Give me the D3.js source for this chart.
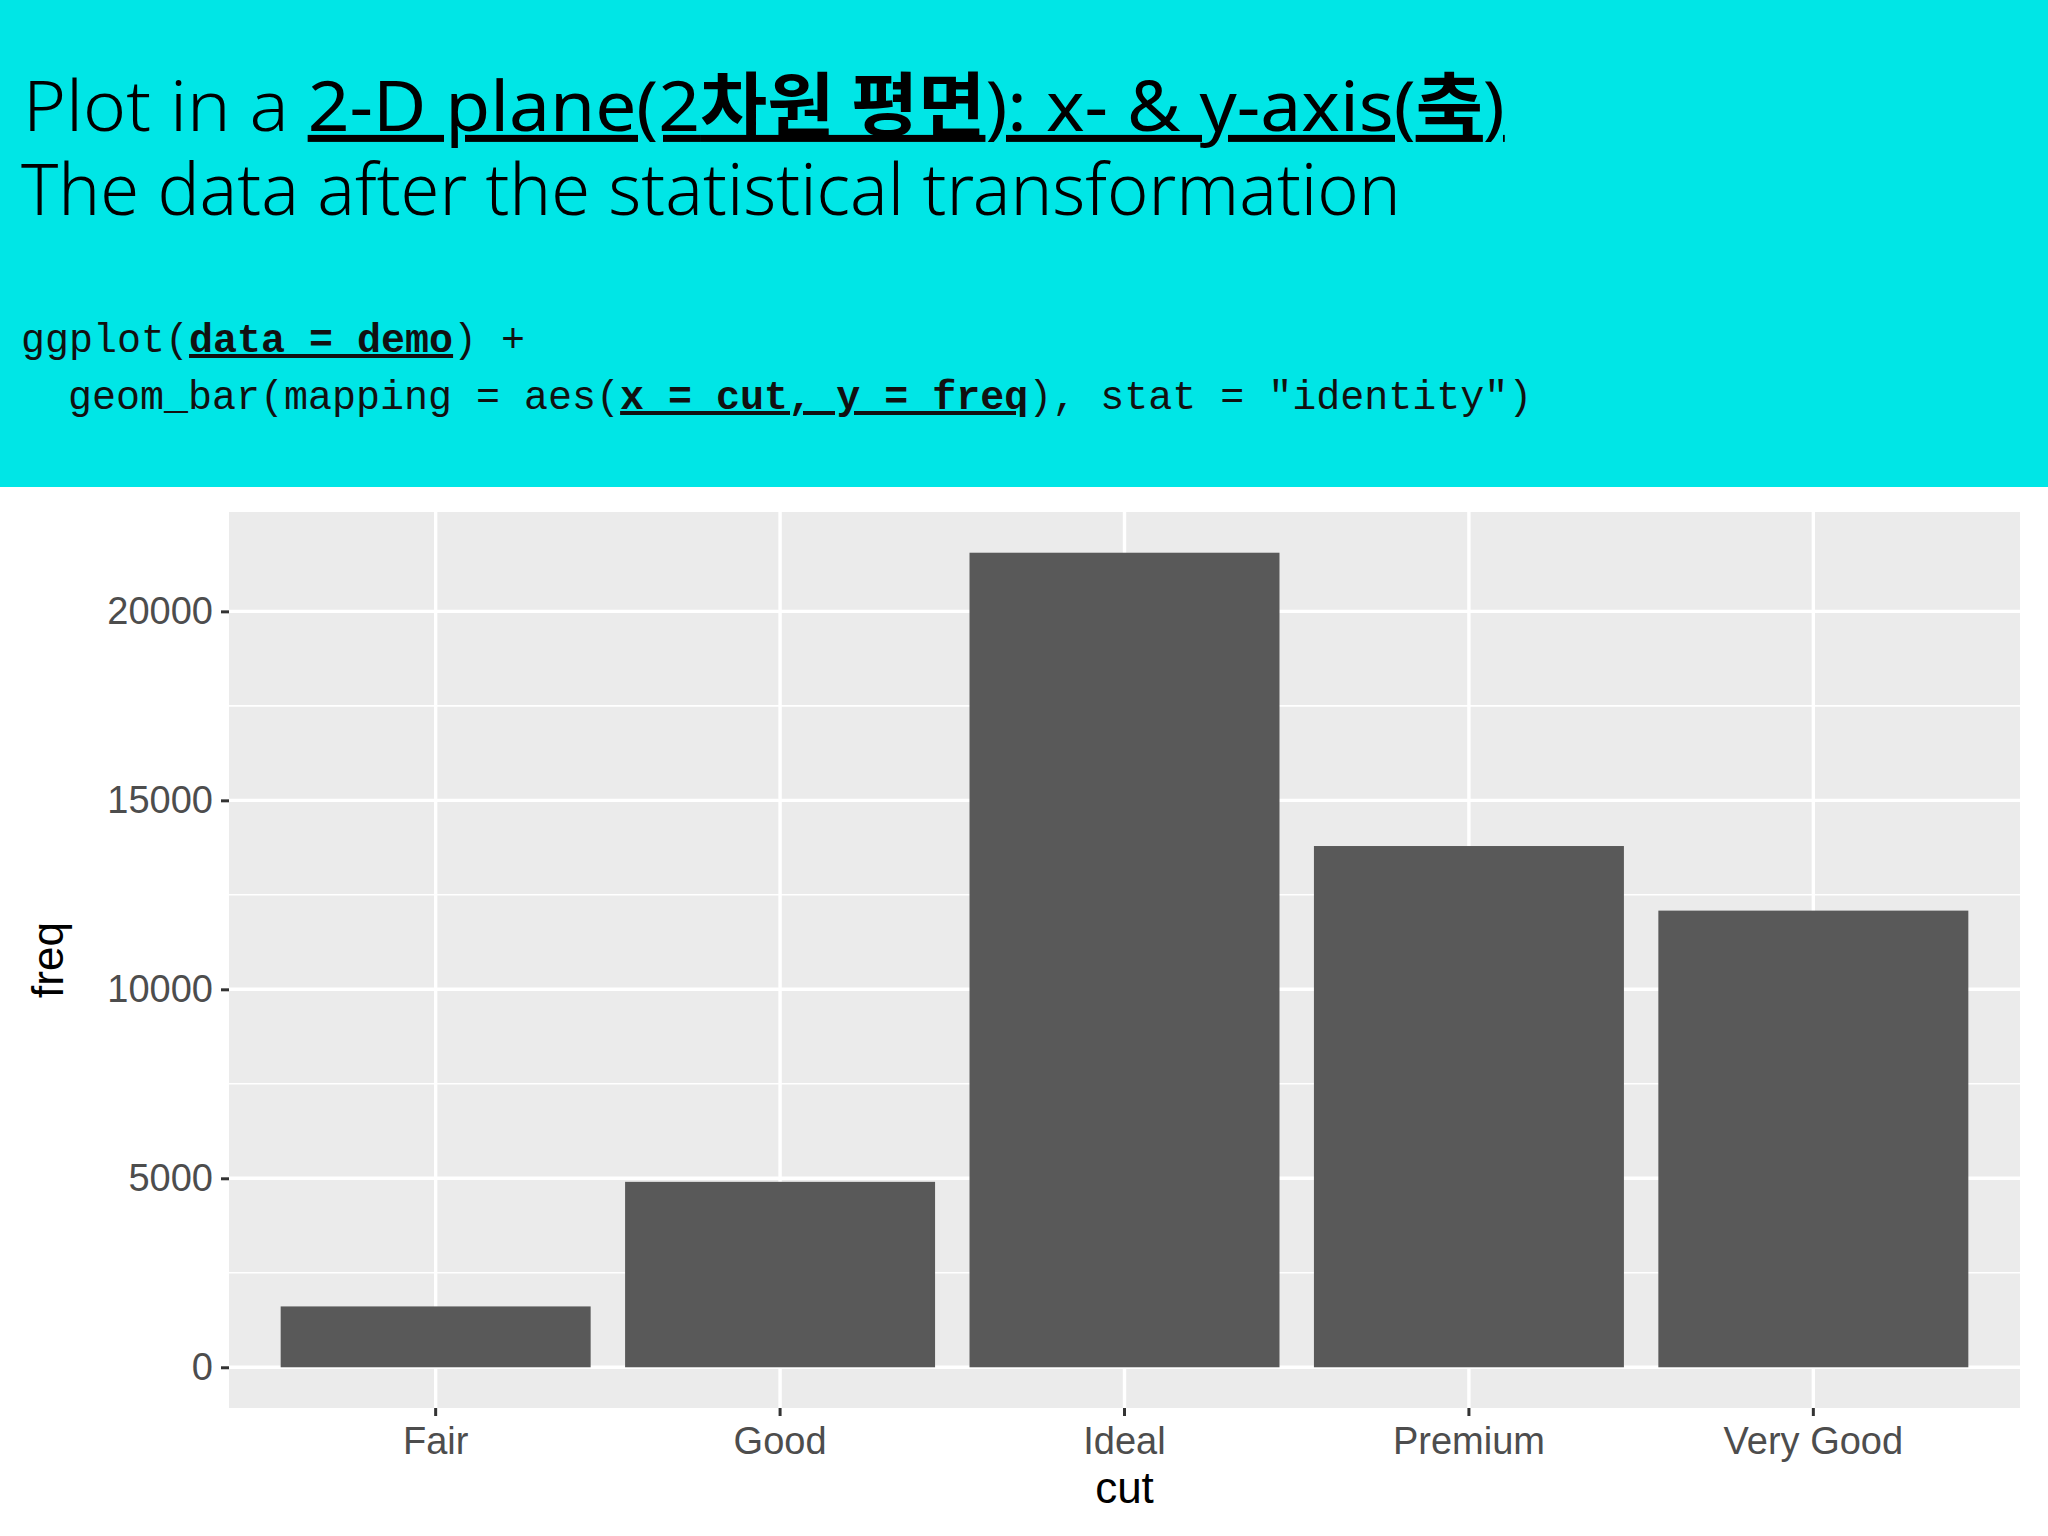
<!DOCTYPE html>
<html><head><meta charset="utf-8">
<script src="https://cdn.jsdelivr.net/npm/d3@7"></script>
<style>body{margin:0;background:#fff}</style></head>
<body><svg id="c" width="2048" height="1536"></svg>
<script>
const categories = ["Fair","Good","Ideal","Premium","Very Good"];
const freq = [1610, 4906, 21551, 13791, 12082];
const yTicks = [0, 5000, 10000, 15000, 20000];
const yMinor = [2500, 7500, 12500, 17500];

const svg = d3.select("#c");
svg.append("rect").attr("width",2048).attr("height",487).attr("fill","#00e6e6");

function fitX(g, tEl, x0, target){
  const w = tEl.node().getComputedTextLength();
  const s = target / w;
  g.attr("transform",`translate(${x0},0) scale(${s},1)`);
}

const g1 = svg.append("g");
const t1 = g1.append("text").attr("x",0).attr("y",131)
  .attr("font-family","'Noto Sans','Noto Sans CJK KR'").attr("font-size",70).attr("fill","#000");
t1.append("tspan").attr("font-weight",300).text("Plot in a ");
t1.append("tspan").attr("text-decoration","underline").text("2-D plane(2");
t1.append("tspan").attr("text-decoration","underline").attr("font-family","'Noto Sans CJK KR'").attr("font-weight",700).text("차원 평면");
t1.append("tspan").attr("text-decoration","underline").text("): x- & y-axis(");
t1.append("tspan").attr("text-decoration","underline").attr("font-family","'Noto Sans CJK KR'").attr("font-weight",700).text("축");
t1.append("tspan").attr("text-decoration","underline").text(")");
fitX(g1, t1, 23, 1482);

const g2 = svg.append("g");
const t2 = g2.append("text").attr("x",0).attr("y",215)
  .attr("font-family","'Noto Sans'").attr("font-weight",300).attr("font-size",72)
  .text("The data after the statistical transformation");
fitX(g2, t2, 21, 1380);

function code(y, x, parts){
  const t = svg.append("text").attr("x",x).attr("y",y).attr("font-family","'Liberation Mono'")
    .attr("font-size",40).attr("fill","#111").attr("xml:space","preserve");
  parts.forEach(p=>{const s=t.append("tspan").text(p[0]); if(p[1]) s.attr("font-weight",700).attr("text-decoration","underline");});
}
code(352, 21, [["ggplot("],["data = demo",1],[") +"]]);
code(409, 68, [["geom_bar(mapping = aes("],["x = cut, y = freq",1],["), stat = \"identity\")"]]);

const L=229, R=2020, T=512, B=1408;
const unit = (R-L)/5.2;
const x = d3.scaleBand().domain(categories).range([L+0.1*unit, R-0.1*unit]).paddingInner(0).paddingOuter(0);
const y = d3.scaleLinear().domain([-1077.55, 22628.55]).range([B, T]);

svg.append("rect").attr("x",L).attr("y",T).attr("width",R-L).attr("height",B-T).attr("fill","#ebebeb");
const g = svg.append("g");
yMinor.forEach(v=>g.append("line").attr("x1",L).attr("x2",R).attr("y1",y(v)).attr("y2",y(v)).attr("stroke","#fff").attr("stroke-width",1.6));
yTicks.forEach(v=>g.append("line").attr("x1",L).attr("x2",R).attr("y1",y(v)).attr("y2",y(v)).attr("stroke","#fff").attr("stroke-width",3.4));
categories.forEach(c=>{const cx=x(c)+x.bandwidth()/2; g.append("line").attr("x1",cx).attr("x2",cx).attr("y1",T).attr("y2",B).attr("stroke","#fff").attr("stroke-width",3.4);});

const bw = x.bandwidth()*0.9;
svg.selectAll(".bar").data(categories).enter().append("rect")
  .attr("x",(d)=>x(d)+x.bandwidth()/2-bw/2).attr("width",bw)
  .attr("y",(d,i)=>y(freq[i])).attr("height",(d,i)=>y(0)-y(freq[i])).attr("fill","#595959");

const ya = svg.append("g").attr("transform",`translate(${L},0)`)
  .call(d3.axisLeft(y).tickValues(yTicks).tickSize(8).tickPadding(8).tickFormat(d3.format("d")));
const xa = svg.append("g").attr("transform",`translate(0,${B})`)
  .call(d3.axisBottom(x).tickSize(8).tickPadding(6));
[ya,xa].forEach(a=>{a.select(".domain").remove();
  a.selectAll(".tick line").attr("stroke","#333").attr("stroke-width",3);
  a.selectAll("text").attr("font-family","'Liberation Sans'").attr("font-size",38).attr("fill","#4d4d4d");});
xa.selectAll("text").attr("dy","0.85em");

svg.append("text").attr("x",(L+R)/2).attr("y",1503).attr("text-anchor","middle")
  .attr("font-family","'Liberation Sans'").attr("font-size",44).text("cut");
svg.append("text").attr("transform","translate(63,960) rotate(-90)").attr("text-anchor","middle")
  .attr("font-family","'Liberation Sans'").attr("font-size",44).text("freq");
</script></body></html>
